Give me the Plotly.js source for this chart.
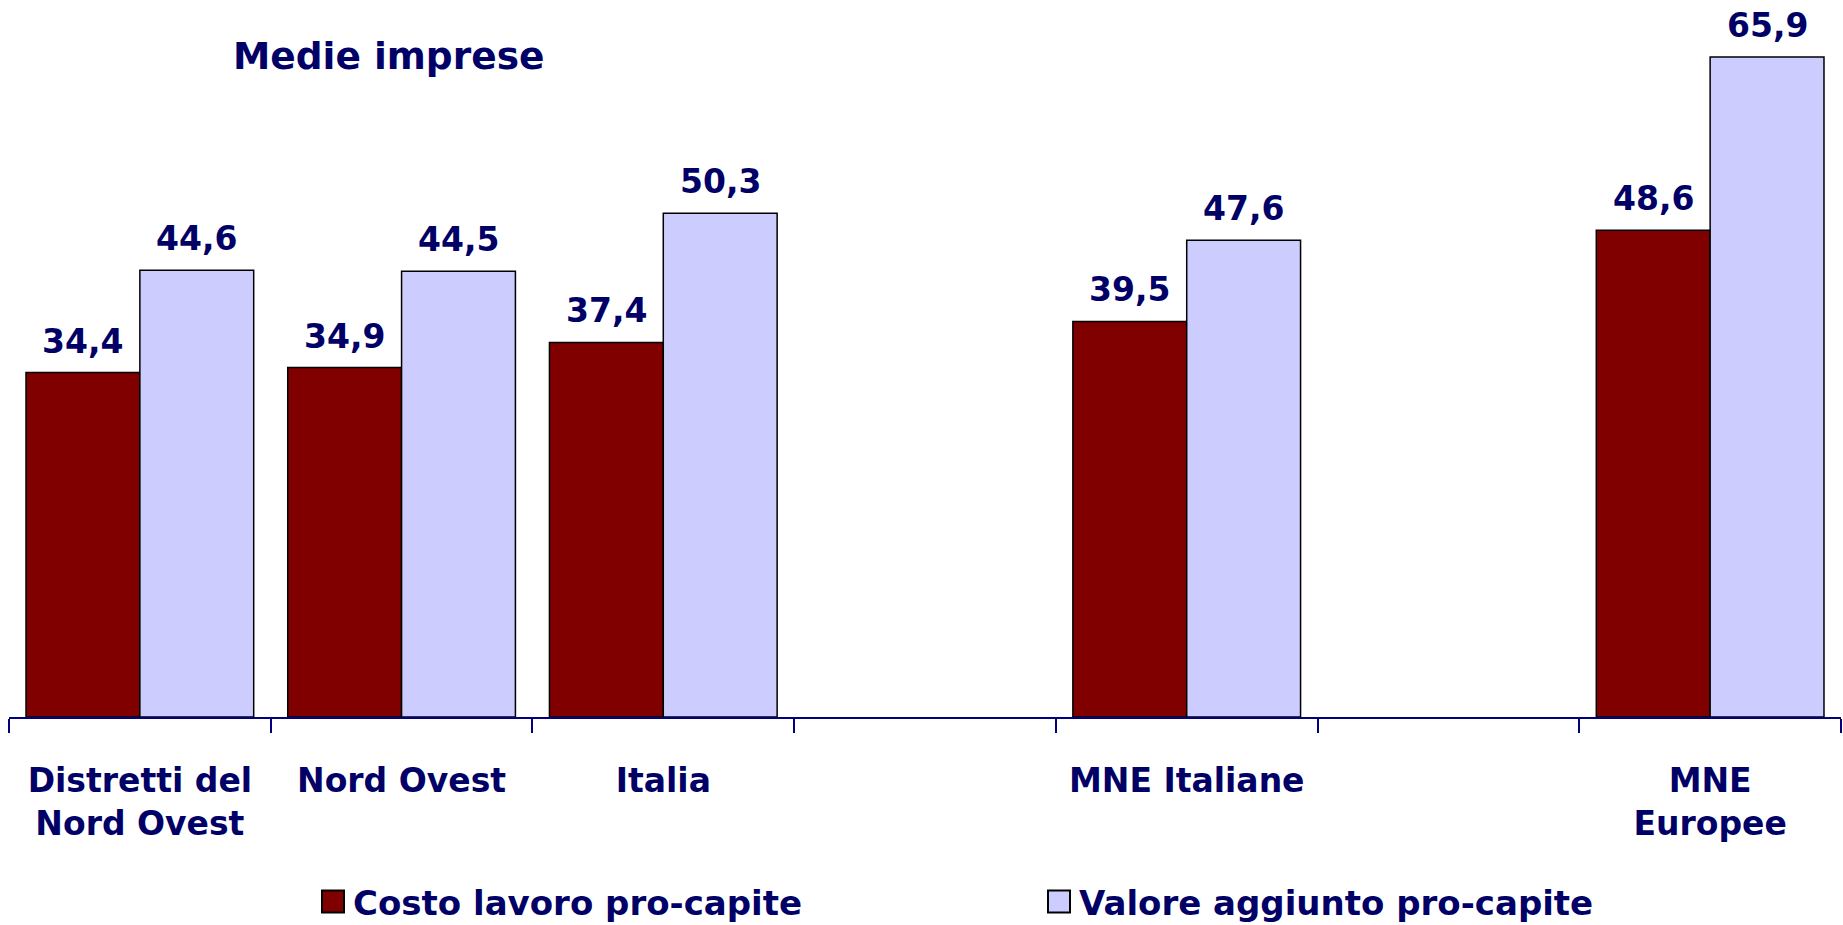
<!DOCTYPE html>
<html>
<head>
<meta charset="utf-8">
<script src="https://cdn.plot.ly/plotly-3.0.1.min.js"></script>
<style>html,body{margin:0;padding:0;background:#fff;}#chart{width:1843px;height:925px;}</style>
</head>
<body>
<div id="chart"></div>
<script>
// ---- data ----
var categories = ['Distretti del<br>Nord Ovest', 'Nord Ovest', 'Italia', ' ', 'MNE Italiane', '  ', 'MNE<br>Europee'];
var costoLavoro = [34.4, 34.9, 37.4, null, 39.5, null, 48.6];
var valoreAggiunto = [44.6, 44.5, 50.3, null, 47.6, null, 65.9];
var seriesNames = ['Costo lavoro pro-capite', 'Valore aggiunto pro-capite'];
var chartTitle = 'Medie imprese';

var navy = '#000066';
var fontFam = '"DejaVu Sans", Verdana, sans-serif';

var traces = [
  {type: 'bar', name: seriesNames[0], x: categories, y: costoLavoro,
   marker: {color: '#800000', line: {color: '#000000', width: 1.5}}, hoverinfo: 'skip'},
  {type: 'bar', name: seriesNames[1], x: categories, y: valoreAggiunto,
   marker: {color: '#CCCCFF', line: {color: '#000000', width: 1.5}}, hoverinfo: 'skip'}
];

var halfOffset = 0.2175;
var annotations = [];
[costoLavoro, valoreAggiunto].forEach(function (vals, s) {
  vals.forEach(function (v, i) {
    if (v === null) return;
    annotations.push({
      xref: 'x', yref: 'y', x: i + (s === 0 ? -halfOffset : halfOffset), y: v,
      text: v.toFixed(1).replace('.', ','), showarrow: false,
      xanchor: 'center', yanchor: 'bottom', yshift: 10,
      font: {family: fontFam, size: 33, color: navy, weight: 'bold'}
    });
  });
});

var layout = {
  width: 1843, height: 925,
  paper_bgcolor: '#ffffff', plot_bgcolor: '#ffffff',
  margin: {l: 9, r: 2, t: 16, b: 208, autoexpand: false},
  font: {family: fontFam, color: navy},
  title: {text: '<b>' + chartTitle + '</b>', xref: 'container', yref: 'container',
          x: 233 / 1843, xanchor: 'left', y: 1 - 56 / 925, yanchor: 'middle',
          font: {family: fontFam, size: 37.5, color: navy}},
  barmode: 'group', bargap: 0.13, bargroupgap: 0,
  showlegend: true,
  legend: {orientation: 'h', xref: 'container', yref: 'container',
           x: 313 / 1843, xanchor: 'left', y: 1 - 902 / 925, yanchor: 'middle',
           entrywidth: 681, entrywidthmode: 'pixels',
           font: {family: fontFam, size: 34, color: navy, weight: 'bold'},
           traceorder: 'normal', itemclick: false, itemdoubleclick: false},
  xaxis: {type: 'category', showline: true, linecolor: '#000080', linewidth: 2,
          ticks: 'outside', tickson: 'boundaries', ticklen: 14, tickwidth: 2, tickcolor: '#000080',
          ticklabelstandoff: 33,
          tickfont: {family: fontFam, size: 33, color: navy, weight: 'bold'},
          showgrid: false, zeroline: false, fixedrange: true},
  yaxis: {range: [0, 70], visible: false, showgrid: false, zeroline: false, fixedrange: true},
  annotations: annotations
};

var gd = document.getElementById('chart');
function bigLegendSymbols() {
  var paths = gd.querySelectorAll('.legend .legendpoints path');
  paths.forEach(function (p) {
    p.setAttribute('d', 'M11,11H-11V-11H11Z');
    p.style.strokeWidth = '2px';
    p.style.stroke = '#000000';
  });
}
Plotly.newPlot(gd, traces, layout, {displayModeBar: false, staticPlot: true}).then(function () {
  bigLegendSymbols();
  gd.on('plotly_afterplot', bigLegendSymbols);
});
</script>
</body>
</html>
